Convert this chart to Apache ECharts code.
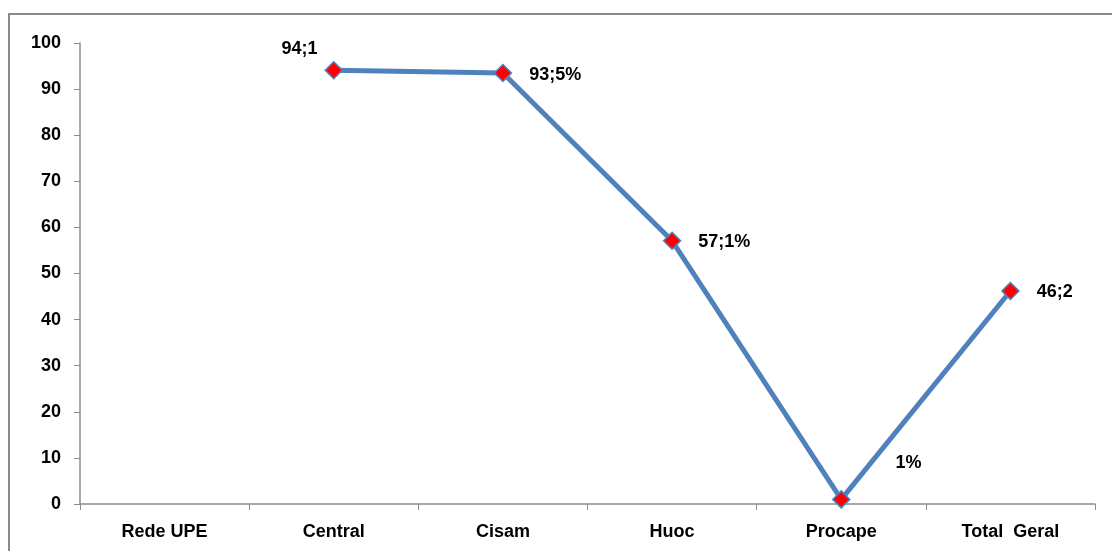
<!DOCTYPE html>
<html>
<head>
<meta charset="utf-8">
<script src="https://cdn.jsdelivr.net/npm/echarts@6/dist/echarts.min.js"></script>
<style>
  html, body { margin: 0; padding: 0; background: #fff; }
  #chart { width: 1112px; height: 551px; }
</style>
</head>
<body>
<div id="chart"></div>
<script>
const categories = ['Rede UPE', 'Central', 'Cisam', 'Huoc', 'Procape', 'Total  Geral'];
const values = [null, 94.1, 93.5, 57.1, 1, 46.2];
const pointLabels = [null, '94;1', '93;5%', '57;1%', '1%', '46;2'];
const yTicks = [0, 100, 10];

const chart = echarts.init(document.getElementById('chart'));

// label offsets differ per point, like in the original
const labelPos = [
  null,
  { position: 'left', offset: [-2, -21] },
  { position: 'right', offset: [12, 2] },
  { position: 'right', offset: [12, 1] },
  { position: 'right', offset: [40, -36] },
  { position: 'right', offset: [12, 1] }
];

const seriesData = values.map((v, i) => {
  if (v === null) return null;
  return {
    value: v,
    label: {
      show: true,
      formatter: pointLabels[i],
      position: labelPos[i].position,
      offset: labelPos[i].offset
    }
  };
});

const font = 'Liberation Sans, Arial, sans-serif';

const option = {
  animation: false,
  graphic: [{
    type: 'rect',
    shape: { x: 9, y: 14, width: 1200, height: 600 },
    style: { fill: 'none', stroke: '#8c8c8c', lineWidth: 2 },
    silent: true
  }],
  grid: {
    left: 80,
    right: 17,
    top: 43,
    bottom: 47
  },
  xAxis: {
    type: 'category',
    data: categories,
    boundaryGap: true,
    axisLine: { lineStyle: { color: '#8c8c8c', width: 1.5 } },
    axisTick: { show: true, length: 6, inside: false, lineStyle: { color: '#8c8c8c' } },
    axisLabel: {
      color: '#000',
      fontFamily: font,
      fontWeight: 'bold',
      fontSize: 18,
      margin: 19
    },
    splitLine: { show: false }
  },
  yAxis: {
    type: 'value',
    min: yTicks[0],
    max: yTicks[1],
    interval: yTicks[2],
    axisLine: { show: true, lineStyle: { color: '#8c8c8c', width: 1.5 } },
    axisTick: { show: true, length: 6, lineStyle: { color: '#8c8c8c' } },
    axisLabel: {
      color: '#000',
      fontFamily: font,
      fontWeight: 'bold',
      fontSize: 18,
      margin: 19
    },
    splitLine: { show: false }
  },
  series: [{
    type: 'line',
    data: seriesData,
    connectNulls: false,
    symbol: 'diamond',
    symbolSize: 17,
    lineStyle: { color: '#4f81bd', width: 5 },
    itemStyle: { color: '#ff0000', borderColor: '#4f81bd', borderWidth: 1.5 },
    label: {
      color: '#000',
      fontFamily: font,
      fontWeight: 'bold',
      fontSize: 18
    }
  }]
};

chart.setOption(option);
</script>
</body>
</html>
